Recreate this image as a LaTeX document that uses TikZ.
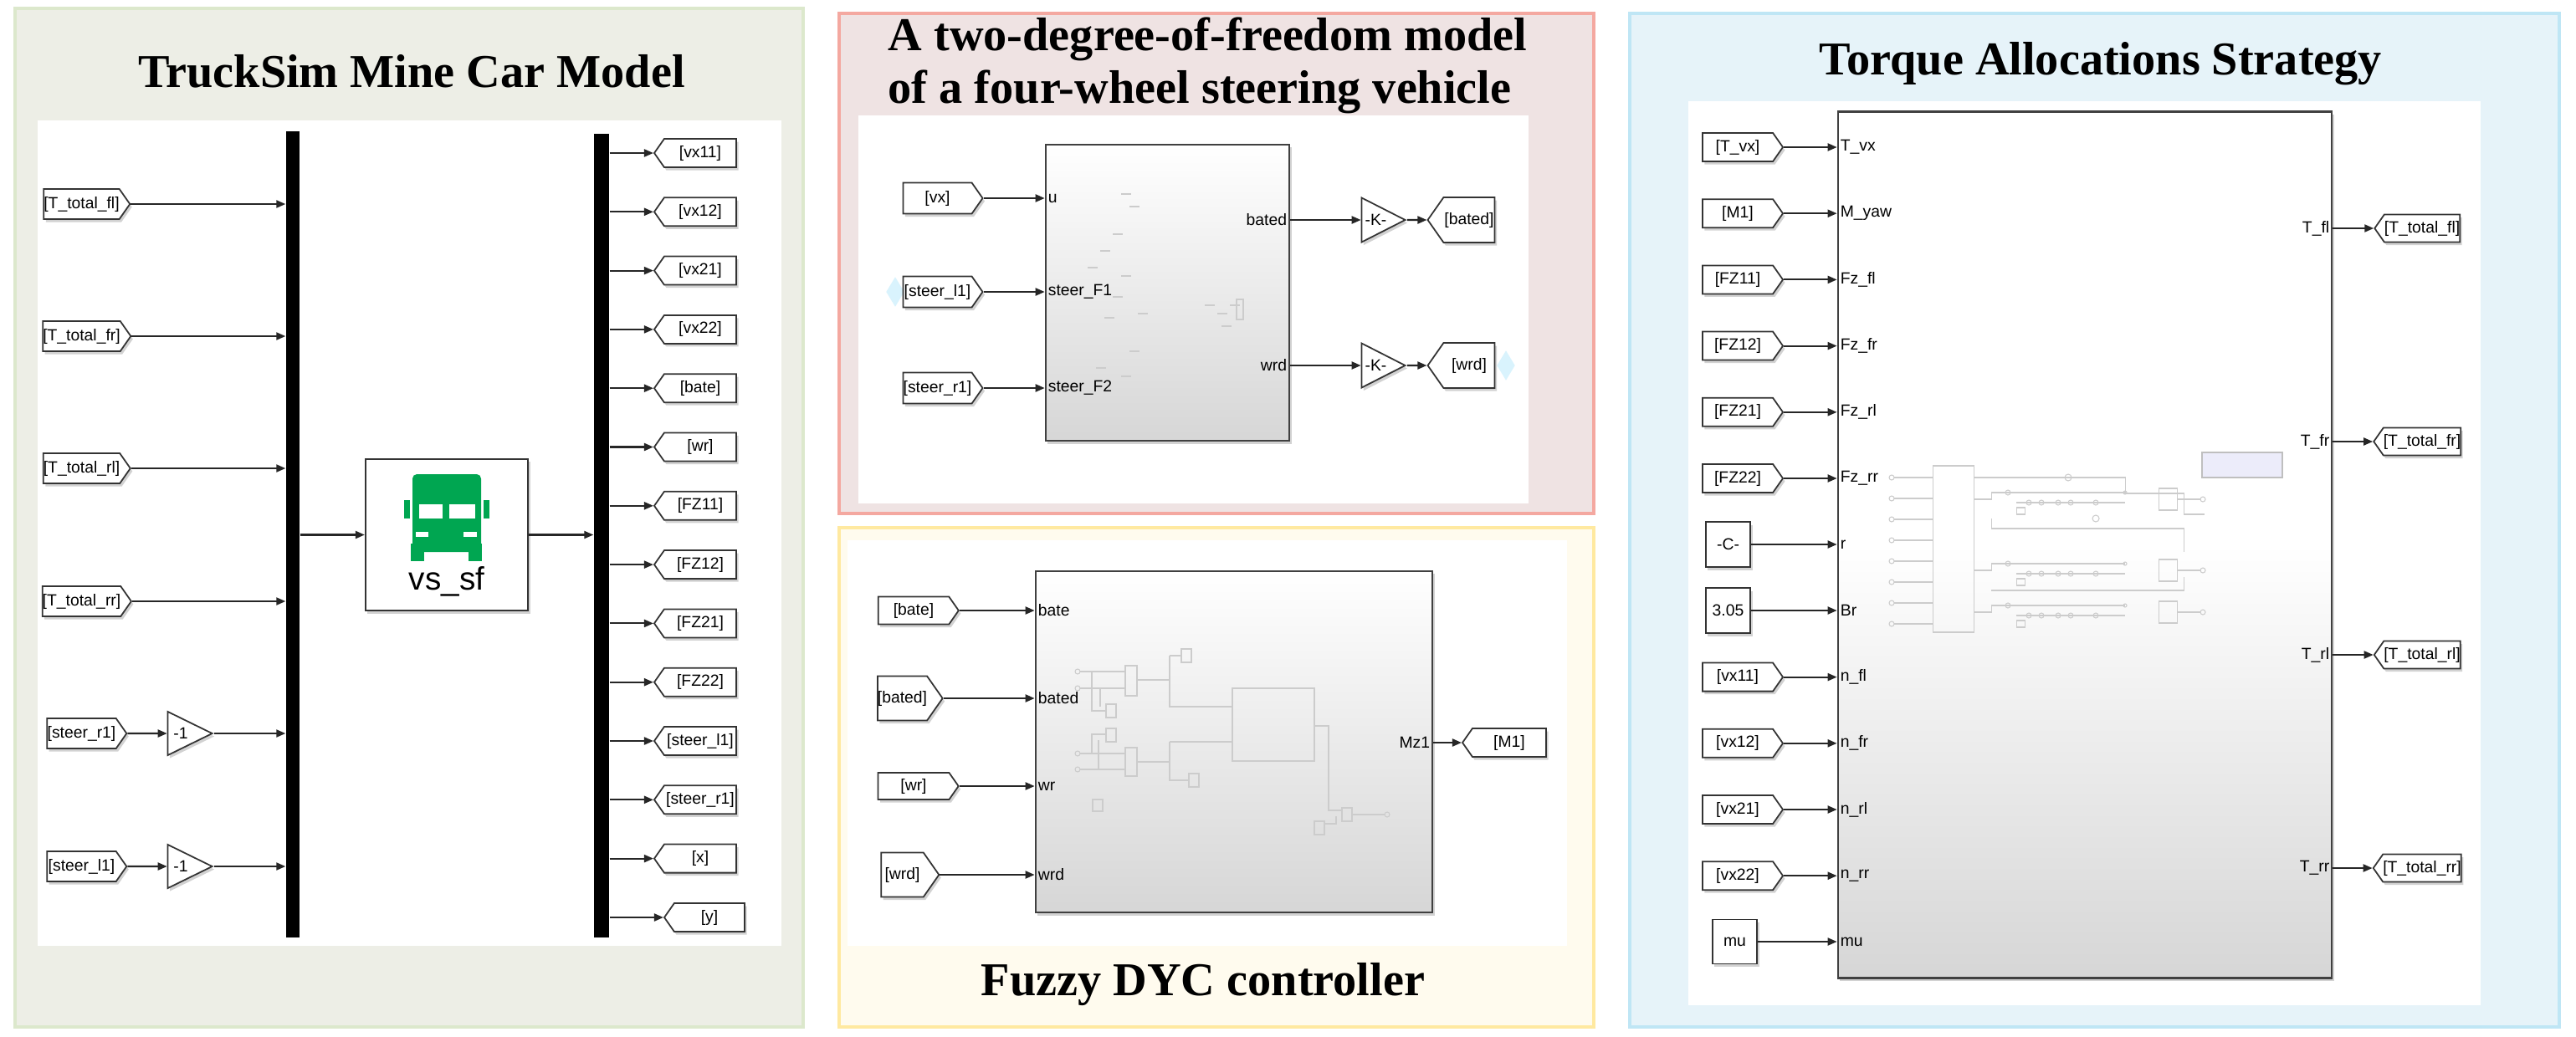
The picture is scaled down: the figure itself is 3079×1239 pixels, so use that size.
\documentclass[tikz,border=0pt]{standalone}
\usepackage{fontspec}
\setmainfont{Liberation Serif}
\newfontfamily\sansf{Liberation Sans}
\usetikzlibrary{shapes.symbols,shapes.geometric,arrows.meta,shadows}
\definecolor{pAf}{HTML}{EDEEE6}\definecolor{pAd}{HTML}{DCE8CC}
\definecolor{pBf}{HTML}{EFE3E3}\definecolor{pBd}{HTML}{F4A8A0}
\definecolor{pCf}{HTML}{FFFBEE}\definecolor{pCd}{HTML}{FFE9A0}
\definecolor{pDf}{HTML}{E6F3F9}\definecolor{pDd}{HTML}{BFE6F5}
\definecolor{tgreen}{HTML}{00A651}
\definecolor{lav}{HTML}{ECECFA}
\begin{document}
\begin{tikzpicture}[x=0.01cm,y=-0.01cm,
 >={Triangle[length=0.11cm,width=0.09cm]},
 sm/.style={font=\sansf\fontsize{5.5}{6}\selectfont},
 lbl/.style={sm, inner sep=1pt},
 shd/.style={drop shadow={shadow xshift=0.7pt,shadow yshift=-1pt,opacity=0.35}},
 tagbase/.style={draw=black!80, line width=0.5pt, fill=white, signal, signal pointer angle=110, inner sep=0pt, sm, shd},
 tin/.style={tagbase, signal to=east},
 tout/.style={tagbase, signal to=west},
 gain/.style={draw=black!80, line width=0.5pt, fill=white, isosceles triangle, isosceles triangle stretches, inner sep=0pt, sm, shd},
 cst/.style={draw=black!80, line width=0.5pt, fill=white, rectangle, inner sep=0pt, sm, shd},
 blk/.style={draw=black!75, line width=0.7pt, top color=white, bottom color=black!16, inner sep=0pt, shd},
 wire/.style={draw=black!85, line width=0.6pt, ->},
 ttl/.style={font=\bfseries\fontsize{16}{18}\selectfont, inner sep=0pt},
 faint/.style={draw=black!20, line width=0.3pt}]
\useasboundingbox (0,0) rectangle (3079,1239);
% panels
\filldraw[fill=pAf,draw=pAd,line width=1pt] (18,10) rectangle (960,1228);
\filldraw[fill=pBf,draw=pBd,line width=1pt] (1003,16) rectangle (1905,614);
\filldraw[fill=pCf,draw=pCd,line width=1pt] (1003,631) rectangle (1905,1228);
\filldraw[fill=pDf,draw=pDd,line width=1pt] (1948,16) rectangle (3059,1228);
\fill[white] (45,144) rectangle (934,1131);
\fill[white] (1026,138) rectangle (1827,602);
\fill[white] (1013,646) rectangle (1873,1131);
\fill[white] (2018,121) rectangle (2965,1202);
% titles
\node[ttl] (t1) at (492,85) {TruckSim Mine Car Model};
\node[ttl,anchor=west] (t2a) at (1061,47) {A two-degree-of-freedom model};
\node[ttl,anchor=west] (t2b) at (1061,110) {of a four-wheel steering vehicle};
\node[ttl] (t3) at (1438,1177) {Fuzzy DYC controller};
\node[ttl] (t4) at (2511,76) {Torque Allocations Strategy};

% ---------- Panel 1 ----------
\node[fill=black,minimum width=0.16cm,minimum height=9.64cm,inner sep=0] (busA) at (350,639) {};
\node[fill=black,minimum width=0.18cm,minimum height=9.61cm,inner sep=0] (busB) at (719,640.5) {};
\node[draw=black!80,line width=0.6pt,fill=white,minimum width=1.94cm,minimum height=1.81cm,shd] (vs) at (534,639.5) {};
\fill[tgreen,rounded corners=1.5pt] (493,567) rectangle (575,660);
\fill[tgreen] (491,650) rectangle (507,671);
\fill[tgreen] (560,650) rectangle (576,671);
\fill[tgreen] (483,598) rectangle (490,620);
\fill[tgreen] (578,598) rectangle (585,620);
\fill[white] (501,603) rectangle (529,620);
\fill[white] (537,603) rectangle (568,620);
\fill[white] (497,636) rectangle (512,642);
\fill[white] (554,636) rectangle (570,642);
\node[font=\sansf\fontsize{11}{12}\selectfont] (vslbl) at (534,695) {vs\_sf};
\draw[wire] (busA.east |- vs.west) -- (vs.west);
\draw[wire] (vs.east) -- (vs.east -| busB.west);
\foreach \n/\t/\y in {fl/T\_total\_fl/244, fr/T\_total\_fr/402, rl/T\_total\_rl/560, rr/T\_total\_rr/719}{
  \node[tin,minimum width=0.95cm,minimum height=0.36cm] (in\n) at (97.5,\y) {[\t]};
  \draw[wire] (in\n.east) -- (in\n.east -| busA.west);
}
\foreach \n/\t/\y in {sr/steer\_r1/877, sl/steer\_l1/1036}{
  \node[tin,minimum width=0.95cm,minimum height=0.36cm] (in\n) at (97.5,\y) {[\t]};
  \node[gain,minimum width=0.52cm,minimum height=0.53cm] (g\n) at (216,\y) {-1};
  \draw[wire] (in\n.east) -- (g\n.west);
  \draw[wire] (g\n.east) -- (g\n.east -| busA.west);
}
\foreach \k/\t in {0/vx11,1/vx12,2/vx21,3/vx22,4/bate,5/wr,6/FZ11,7/FZ12,8/FZ21,9/FZ22,10/steer\_l1,11/steer\_r1,12/x}{
  \node[tout,minimum width=0.98cm,minimum height=0.34cm] (o\k) at (837,183+70.3*\k) {[\t]};
  \draw[wire] (o\k.west -| busB.east) -- (o\k.west);
}
\node[tout,minimum width=0.96cm,minimum height=0.34cm] (o13) at (848,1097) {[y]};
\draw[wire] (o13.west -| busB.east) -- (o13.west);

% ---------- Panel 2 ----------
\node[diamond,fill=cyan!15,minimum width=0.22cm,minimum height=0.36cm,inner sep=0] (hl1) at (1070,349) {};
\node[diamond,fill=cyan!15,minimum width=0.22cm,minimum height=0.36cm,inner sep=0] (hl2) at (1800,437) {};
\node[blk,minimum width=2.91cm,minimum height=3.54cm] (m2) at (1395.5,350) {};
\foreach \x/\y in {1340/232,1350/247,1330/280,1315/300,1300/320,1340/330,1330/355,1360/375,1320/380,1440/365,1455/375,1460/390,1470/365,1350/420,1310/440,1340/450}{
  \draw[faint] (\x,\y) -- ++(12,0);
}
\draw[faint] (1478,358) rectangle (1486,382);
\foreach \n/\t/\p/\y in {vx/vx/u/237, sl/steer\_l1/steer\_F1/349, sr/steer\_r1/steer\_F2/464}{
  \node[tin,minimum width=0.95cm,minimum height=0.37cm] (b\n) at (1120.5,\y) {[\t]};
  \draw[wire] (b\n.east) -- (b\n.east -| m2.west);
  \node[lbl,anchor=west] (bp\n) at (b\n.east -| m2.west) {\p};
}
\foreach \n/\t/\y in {bd/bated/263, wd/wrd/437}{
  \node[gain,minimum width=0.53cm,minimum height=0.52cm] (k\n) at (1644.5,\y) {-K-};
  \node[tout,minimum width=0.80cm,minimum height=0.54cm] (ob\n) at (1756,\y) {[\t]};
  \node[lbl,anchor=east] (kp\n) at (m2.east |- k\n.west) {\t};
  \draw[wire] (m2.east |- k\n.west) -- (k\n.west);
  \draw[wire] (k\n.east) -- (ob\n.west);
}

% ---------- Panel 3 ----------
\node[blk,minimum width=4.74cm,minimum height=4.08cm] (m3) at (1475,887) {};
\draw[faint] (1345,796) rectangle (1359,832);
\draw[faint] (1345,894) rectangle (1359,928);
\draw[faint] (1473,823) rectangle (1571,910);
\foreach \y in {803,823,901,920}{\draw[faint] (1288,\y) circle (3);}
\draw[faint] (1291,803) -- (1345,803); \draw[faint] (1291,823) -- (1345,823);
\draw[faint] (1291,901) -- (1345,901); \draw[faint] (1291,920) -- (1345,920);
\draw[faint] (1305,803) -- (1305,850) -- (1322,850); \draw[faint] (1315,823) -- (1315,845);
\draw[faint] (1305,901) -- (1305,878) -- (1322,878); \draw[faint] (1313,920) -- (1313,885);
\draw[faint] (1322,842) rectangle (1334,858); \draw[faint] (1322,871) rectangle (1334,887);
\draw[faint] (1359,813) -- (1398,813); \draw[faint] (1398,784) -- (1398,845) -- (1473,845);
\draw[faint] (1398,784) -- (1412,784); \draw[faint] (1412,776) rectangle (1424,792);
\draw[faint] (1359,911) -- (1398,911); \draw[faint] (1398,887) -- (1398,933) -- (1421,933);
\draw[faint] (1398,887) -- (1473,887); \draw[faint] (1421,925) rectangle (1433,941);
\draw[faint] (1571,868) -- (1588,868) -- (1588,969) -- (1604,969);
\draw[faint] (1604,966) rectangle (1616,982); \draw[faint] (1616,974) -- (1655,974); \draw[faint] (1658,974) circle (3);
\draw[faint] (1571,982) rectangle (1583,998); \draw[faint] (1583,985) -- (1597,985) -- (1597,976);
\draw[faint] (1306,956) rectangle (1318,970);
\foreach \n/\t/\y/\w/\h/\cx in {a/bate/730/0.96/0.33/1092, b/bated/835/0.69/0.53/1078.5, c/wr/940/0.96/0.32/1092, d/wrd/1046/0.69/0.53/1078.5}{
  \node[tin,minimum width=\w cm,minimum height=\h cm] (f\n) at (\cx,\y) {[\t]};
  \draw[wire] (f\n.east) -- (f\n.east -| m3.west);
  \node[lbl,anchor=west] (fp\n) at (f\n.east -| m3.west) {\t};
}
\node[tout,minimum width=1.0cm,minimum height=0.34cm] (fM) at (1804,888) {[M1]};
\draw[wire] (m3.east |- fM.west) -- (fM.west);
\node[lbl,anchor=east] (fpM) at (m3.east |- fM.west) {Mz1};

% ---------- Panel 4 ----------
\node[draw=black!75,line width=0.7pt,inner sep=0pt,shd,minimum width=5.9cm,minimum height=10.35cm,
  top color=white,bottom color=black!16,middle color=white,shading angle=0] (m4) at (2492,651.5) {};
\draw[faint] (2310,557) rectangle (2359,756);
\foreach \y in {571,596,621,646,671,696,721,746}{\draw[faint] (2261,\y) circle (3); \draw[faint] (2264,\y) -- (2310,\y);}
\draw[faint] (2359,571) -- (2540,571) -- (2540,590) -- (2610,590) -- (2610,615) -- (2635,615);
\draw[faint] (2472,571) circle (4);
\foreach \y in {597,682,732}{
  \draw[faint] (2359,\y) -- (2380,\y) -- (2380,\y-8) -- (2540,\y-8);
  \draw[faint] (2400,\y-8) circle (3); \draw[faint] (2540,\y-8) circle (2);
  \draw[faint] (2410,\y+4) -- (2540,\y+4);
  \foreach \xx in {2425,2440,2460,2475,2505}{\draw[faint] (\xx,\y+4) circle (3);}
  \draw[faint] (2410,\y+10) rectangle (2420,\y+18);
  \draw[faint] (2580,\y-13) rectangle (2602,\y+13);
  \draw[faint] (2602,\y) -- (2630,\y); \draw[faint] (2633,\y) circle (3);
}
\draw[faint] (2380,620) -- (2380,632) -- (2610,632) -- (2610,660);
\draw[faint] (2380,706) -- (2610,706) -- (2610,690);
\draw[faint] (2505,620) circle (4);
\filldraw[fill=lav,draw=black!25,line width=0.4pt] (2632,541) rectangle (2728,571);
\foreach \k/\t/\p in {0/T\_vx/T\_vx,1/M1/M\_yaw,2/FZ11/Fz\_fl,3/FZ12/Fz\_fr,4/FZ21/Fz\_rl,5/FZ22/Fz\_rr,8/vx11/n\_fl,9/vx12/n\_fr,10/vx21/n\_rl,11/vx22/n\_rr}{
  \node[tin,minimum width=0.96cm,minimum height=0.34cm] (d\k) at (2077,176+79.2*\k) {[\t]};
  \draw[wire] (d\k.east) -- (d\k.east -| m4.west);
  \node[lbl,anchor=west] (dp\k) at (d\k.east -| m4.west) {\p};
}
\node[cst,minimum width=0.53cm,minimum height=0.54cm] (d6) at (2065.5,651) {-C-};
\node[cst,minimum width=0.53cm,minimum height=0.54cm] (d7) at (2065.5,730) {3.05};
\node[cst,minimum width=0.53cm,minimum height=0.53cm] (d12) at (2073.5,1126) {mu};
\foreach \k/\p in {6/r,7/Br,12/mu}{
  \draw[wire] (d\k.east) -- (d\k.east -| m4.west);
  \node[lbl,anchor=west] (dp\k) at (d\k.east -| m4.west) {\p};
}
\foreach \n/\t/\p/\y in {a/T\_total\_fl/T\_fl/273, b/T\_total\_fr/T\_fr/528, c/T\_total\_rl/T\_rl/783, d/T\_total\_rr/T\_rr/1038}{
  \node[tout,minimum width=0.98cm,minimum height=0.33cm] (q\n) at (2895,\y) {[\t]};
  \draw[wire] (m4.east |- q\n.west) -- (q\n.west);
  \node[lbl,anchor=east] (qp\n) at (m4.east |- q\n.west) {\p};
}
\end{tikzpicture}
\end{document}
